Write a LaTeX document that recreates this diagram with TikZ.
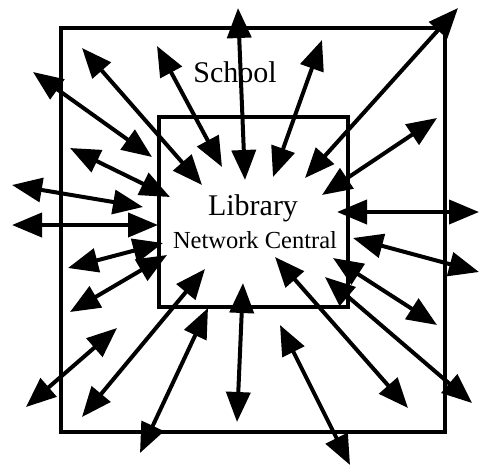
\documentclass[tikz,border=0pt]{standalone}
\usepackage{fontspec}
\setmainfont{Liberation Serif}
\usetikzlibrary{arrows.meta}

\begin{document}
\begin{tikzpicture}[x=1pt, y=-1pt,
    zone/.style={rectangle, draw=black, line width=3.5pt, inner sep=0pt},
    title/.style={anchor=base, inner sep=0pt, font=\fontsize{30}{36}\selectfont},
    subtitle/.style={anchor=base, inner sep=0pt, font=\fontsize{24.5}{30}\selectfont},
    link/.style={{Triangle[length=30pt,width=24pt]}-{Triangle[length=30pt,width=24pt]},
                line width=4pt},
]
\useasboundingbox (0,0) rectangle (479,467);

% --- School and library ---
\node[zone, minimum width=384pt, minimum height=404pt] (school) at (253,230) {};
\node[zone, minimum width=189pt, minimum height=190pt] (library) at (253.5,212) {};

\node[title] (schoolname) at (235,82) {School};
\node[title] (libname) at (253,215) {Library};
\node[subtitle] (netname) at (255,248) {Network Central};

% --- Links in and out ---
\foreach \i/\ax/\ay/\bx/\by in {
    1/238/8/245/180, 2/458/8/305/178, 3/322/40/273/177,
    4/437/118/322/195, 5/479/212/337/212, 6/479/272/353/238,
    7/437/325/333/258, 8/472/403/325/277, 9/408/408/275/257,
    10/350/465/280/325, 11/237/422/243/283, 12/82/417/205/269,
    13/140/453/208/308, 14/26/407/117/328, 15/70/312/167/255,
    16/68/268/163/243, 17/12/225/158/225, 18/12/185/143/207,
    19/70/148/170/197, 20/33/72/152/157, 21/82/48/202/185,
    22/157/46/222/167} {
  \coordinate (far\i) at (\ax,\ay);
  \coordinate (near\i) at (\bx,\by);
  \draw[link] (far\i) -- (near\i);
}

\end{tikzpicture}
\end{document}
